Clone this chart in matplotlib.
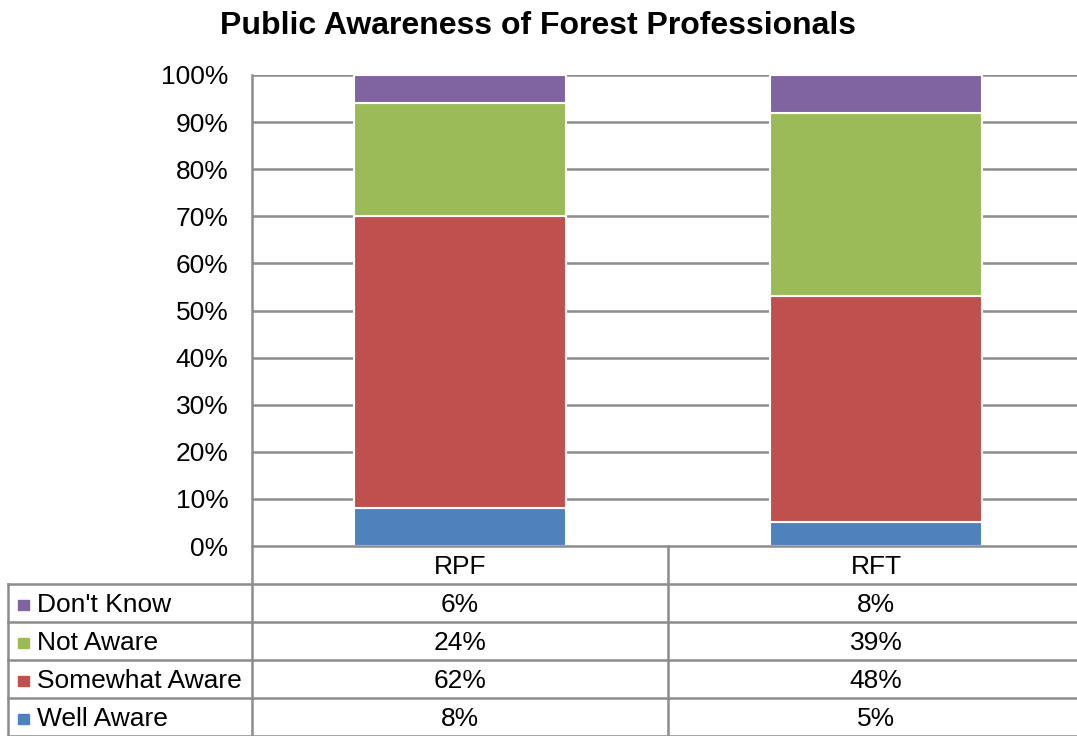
import matplotlib
matplotlib.use("Agg")
import matplotlib.pyplot as plt
from matplotlib.transforms import blended_transform_factory
from matplotlib.lines import Line2D
from matplotlib.patches import Rectangle

plt.rcParams['font.family'] = ['Liberation Sans', 'DejaVu Sans']

categories = ["RPF", "RFT"]
series_names = ["Well Aware", "Somewhat Aware", "Not Aware", "Don't Know"]
well_aware = [8, 5]
somewhat_aware = [62, 48]
not_aware = [24, 39]
dont_know = [6, 8]
colors = ["#4F81BD", "#C0504D", "#9BBB59", "#8064A2"]
yticks = [0, 10, 20, 30, 40, 50, 60, 70, 80, 90, 100]

W, H = 1077, 736
fig = plt.figure(figsize=(W / 100, H / 100), dpi=100)
FS = 19.0

def fx(px):
    return px / W

def fy(py):
    return 1 - py / H

ax_left, ax_right, ax_top, ax_bot = 252, 1084, 75, 546
ax = fig.add_axes([fx(ax_left), fy(ax_bot), fx(ax_right - ax_left), fy(ax_top) - fy(ax_bot)])
ax.set_xlim(-0.5, 1.5)
ax.set_ylim(0, 100)

grid_color = "#8C8C8C"
ax.set_yticks(yticks)
ax.set_yticklabels([f"{t}%" for t in yticks], fontsize=FS)
ax.tick_params(axis='y', length=0, pad=17)
ax.set_xticks([])
for t in yticks[1:]:
    ax.axhline(t, color=grid_color, lw=1.8, zorder=0)
for s in ax.spines.values():
    s.set_visible(False)

series = [well_aware, somewhat_aware, not_aware, dont_know]
x = list(range(len(categories)))
bottom = [0] * len(categories)
for vals, col in zip(series, colors):
    ax.bar(x, vals, bottom=bottom, width=0.512, color=col, edgecolor="white", linewidth=1.5, zorder=3)
    bottom = [b + v for b, v in zip(bottom, vals)]

fig.text(fx(538), fy(26), "Public Awareness of Forest Professionals", ha="center", va="center",
         fontsize=23, fontweight="bold")

# Data table
line_kw = dict(color=grid_color, lw=1.8)
row_tops = [546, 584, 622, 660, 698, 736]
tf = fig.transFigure
fig.add_artist(Line2D([fx(252), 1], [fy(546), fy(546)], transform=tf, **line_kw))
for yy in row_tops[1:]:
    fig.add_artist(Line2D([fx(8), 1], [fy(yy), fy(yy)], transform=tf, **line_kw))
fig.add_artist(Line2D([fx(252), fx(252)], [fy(75), fy(736)], transform=tf, **line_kw))
fig.add_artist(Line2D([fx(668), fx(668)], [fy(546), fy(736)], transform=tf, **line_kw))
fig.add_artist(Line2D([fx(8), fx(8)], [fy(584), fy(736)], transform=tf, **line_kw))

bt = blended_transform_factory(ax.transData, tf)
for i, c in enumerate(categories):
    fig.text(x[i], fy(567), c, transform=bt, ha="center", va="center", fontsize=FS)

rows = list(zip(series_names, series, colors))[::-1]
for r, (name, vals, col) in enumerate(rows):
    yc = (row_tops[r + 1] + row_tops[r + 2]) / 2 + 1.5
    fig.add_artist(Rectangle((fx(18), fy(yc + 5)), fx(11), fy(yc - 5) - fy(yc + 5),
                             transform=tf, color=col))
    fig.text(fx(37), fy(yc), name, ha="left", va="center", fontsize=FS)
    for i, v in enumerate(vals):
        fig.text(x[i], fy(yc), f"{v}%", transform=bt, ha="center", va="center", fontsize=FS)

fig.savefig("out.png", dpi=100)
